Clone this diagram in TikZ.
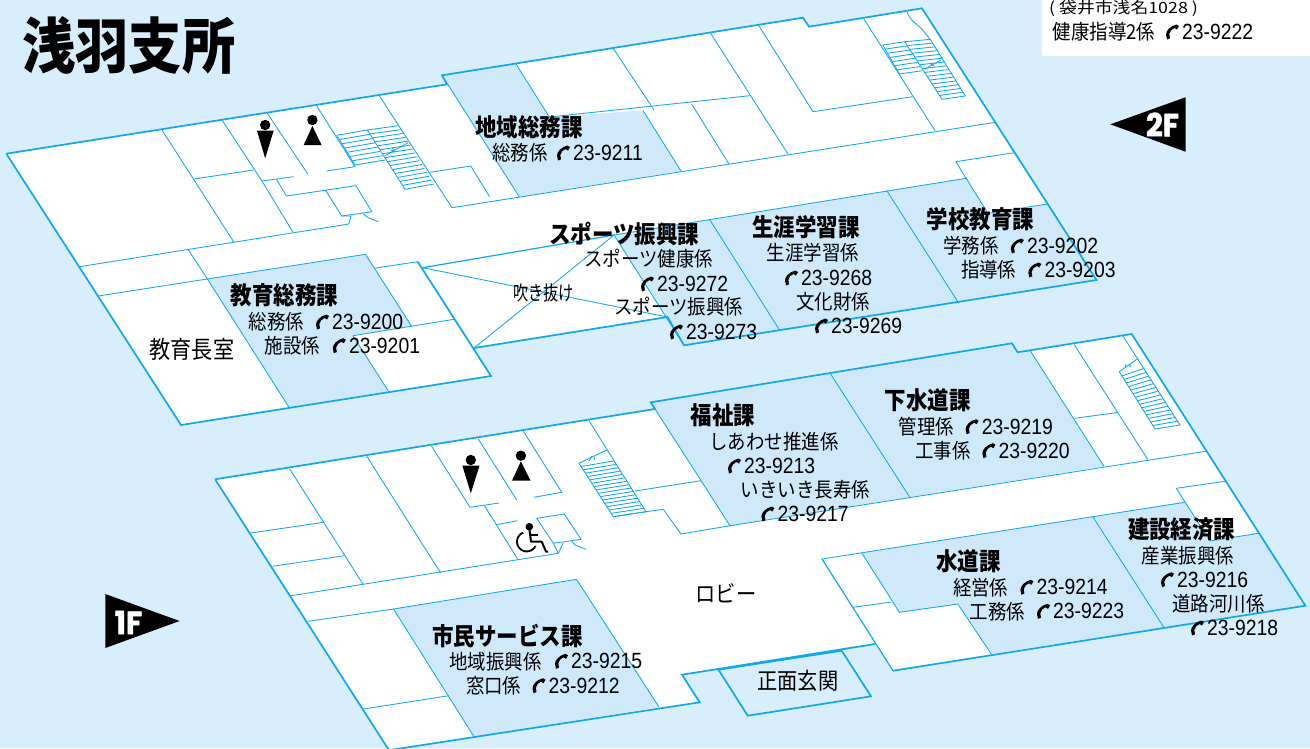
\documentclass[tikz,border=0pt]{standalone}
\usepackage{fontspec}
\usetikzlibrary{calc}
\newfontfamily\jpf[FakeStretch=0.9]{Noto Sans CJK JP}
\newfontfamily\jph[FakeStretch=0.88]{Noto Sans CJK JP}
\newfontfamily\jpn[FakeStretch=0.76]{Noto Sans CJK JP}
\newfontfamily\addrf[FakeStretch=1.15]{Noto Sans CJK JP}
\newfontfamily\numf[FakeStretch=0.88]{Liberation Sans}
\newfontfamily\flr[FakeStretch=0.92,FakeBold=1.5]{Poppins}
\definecolor{bgblue}{HTML}{D9EEFD}
\definecolor{shade}{HTML}{D0E9FA}
\definecolor{wall}{HTML}{12A7EA}
\tikzset{
  thinw/.style={draw=wall,line width=0.85pt,line join=miter},
  thickw/.style={draw=wall,line width=1.7pt,line join=miter},
  midw/.style={draw=wall,line width=1.2pt,line join=miter},
  roomfill/.style={fill=white},
  deptfill/.style={fill=shade},
  labeltxt/.style={inner sep=0pt,anchor=west,font=\jpf\fontsize{20.5}{24}\selectfont},
  headtxt/.style={inner sep=0pt,anchor=west,font=\jph\bfseries\fontsize{24.4}{28}\selectfont},
  numtxt/.style={inner sep=0pt,anchor=west,font=\numf\fontsize{22}{26}\selectfont},
  phone/.pic={
    \fill (4.5,-7.5) .. controls (-2,-6) and (-6,-1) .. (-6,2.5) -- (-5,7.5) -- (-2,6.3) -- (-2.7,2)
      .. controls (-2.3,-1) and (0,-3) .. (2.5,-4) -- (5,-2.5) -- (7,-6) -- cycle;
  }
}
\newcommand\lab[4]{\node[labeltxt] (#1) at (#2,#3) {#4};}
\newcommand\hd[4]{\node[headtxt] (#1) at (#2,#3) {#4};}
\newcommand\tel[4]{\pic at ({#2-10},#3) {phone}; \node[numtxt] (#1) at (#2,#3) {#4};}
\newcommand\treads[5]{\foreach \i in {0,...,#5} {\draw[thinw] ($(#1)!\i/#5!(#3)$) -- ($(#2)!\i/#5!(#4)$);}}
\begin{document}
\begin{tikzpicture}[x=1pt,y=-1pt]
\clip (0,0) rectangle (1310,748);
\fill[bgblue] (0,0) rectangle (1310,748);
\fill[white] (1042,-1) rectangle (1311,56);

% ---------- 2F ----------
\fill[roomfill] (6.3,153.7) -- (447,84.3) -- (442,75.3) -- (803,17.7) -- (809,26.7) -- (922,8.3)
  -- (1096.5,280) -- (684,345.3) -- (667.5,317) -- (474,348) -- (491,376) -- (181,425) -- cycle;
\fill[deptfill] (442,75.3) -- (516,64) -- (549.3,117) -- (643,110.5) -- (681,171) -- (519.2,196.7) -- cycle;
\fill[deptfill] (207.6,279.3) -- (365.5,254.3) -- (411.4,326) -- (353,335.7) -- (388.5,391.3) -- (289,407.3) -- cycle;
\fill[deptfill] (614,235) -- (966.2,178.3) -- (988,213.4) -- (1047,204) -- (1096.5,280) -- (684,345.3) -- cycle;
% corridor and rooms
\draw[thinw] (79.4,266.7) -- (348.8,224) -- (351,216) -- (341.7,216);
\draw[thinw] (98.2,296) -- (365.5,254.3) -- (411.4,326);
\draw[thinw] (188,249.3) -- (207.6,279.3) -- (289,407.3);
\draw[thinw] (373.8,268.3) -- (417.7,261.7);
\draw[thinw] (353,335.7) -- (454,319.3);
\draw[thinw] (353,335.7) -- (388.5,391.3);
\draw[thinw] (162,130) -- (234,242.3);
\draw[thinw] (222,120) -- (262,181) -- (293,232.3);
\draw[thinw] (194,179) -- (253.6,170);
\draw[thinw] (267.3,113.3) -- (307.8,174);
\draw[thinw] (316.6,105.7) -- (355,166.7) -- (326.6,171);
\draw[thinw] (262,181) -- (293.6,176.7);
\draw[thinw] (276.5,179.3) -- (286.5,196) -- (355.9,185.7) -- (371.8,211.7) -- (341.7,216) -- (325.8,190.7);
\draw[thinw] (363.4,214) -- (367.6,217.3) -- (378,221.7);
\draw[thinw] (379.3,95.7) -- (452,207.7) -- (995.4,122.3);
\draw[thinw] (430,172.3) -- (470.8,166) -- (489.5,196.7);
\draw[thinw] (516,64) -- (549.3,117) -- (750,95.7);
\draw[thinw] (613.2,48.3) -- (654,110);
\draw[thinw] (643,110.5) -- (681,171);
\draw[thinw] (710.6,33.3) -- (788,154);
\draw[thinw] (691.8,104.3) -- (729,164);
\draw[thinw] (758.6,25.3) -- (813,111.7) -- (912.7,96.7);
\draw[thinw] (863.9,19) -- (935,130.7);
\draw[thinw] (907,11.7) .. controls (911,22) and (917,24) .. (921,28) -- (930.7,40);
\draw[thinw] (930.7,40) -- (965.4,96);
\draw[thinw] (442,75.3) -- (519.2,196.7);
\draw[thinw] (955.8,161.7) -- (1014,152.7);
\draw[thinw] (955.8,161.7) -- (988,213.4) -- (1047,204);
\draw[thinw] (614,235) -- (966.2,178.3);
\draw[thinw] (709.3,219) -- (779.5,330);
\draw[thinw] (886.8,190.7) -- (957.8,301.7);
% atrium
\draw[thinw] (422.7,267.7) -- (667.5,317);
\draw[thinw] (474,348) -- (614,235);
\draw[thinw] (614,235) -- (684,345.3);
% 2F stairs
\treads{336.7,135.3}{367.3,130}{355,165}{385,160}{7}
\treads{367.3,130}{398.3,125.7}{405,189.3}{434,184}{15}
\draw[thinw] (336.7,135.3) -- (355,165);
\draw[thinw] (367.3,130) -- (405,189.3);
\draw[thinw] (385,155.7) -- (408,142.7);
\draw[thinw] (391,150) -- (395,152) (392,147.5) -- (394,150.5);
\treads{882.7,45}{904.8,41.7}{899.4,74}{922.3,70.7}{7}
\treads{904.8,41.7}{930.7,39.3}{942,99.3}{965.4,96}{15}
\draw[thinw] (882.7,45) -- (899.4,74);
\draw[thinw] (904.8,41.7) -- (942,99.3);
\draw[thinw] (924.4,69.3) -- (941,60);
\draw[thinw] (930,63.5) -- (934,66);
% 2F outline
\draw[thickw] (6.3,153.7) -- (447,84.3) -- (442,75.3) -- (803,17.7) -- (809,26.7) -- (922,8.3)
  -- (1096.5,280) -- (684,345.3) -- (667.5,317) -- (474,348);
\draw[thickw] (6.3,153.7) -- (181,425) -- (491,376) -- (417.7,261.7);
\draw[midw] (422.7,267.7) -- (614,235);

% ---------- 1F ----------
\fill[roomfill] (215.1,479.3) -- (655,409) -- (650.8,402.3) -- (1012,343.3) -- (1017.6,352.3) -- (1131.7,334)
  -- (1305.4,605.7) -- (893,670.7) -- (875,644) -- (682,674.7) -- (699.7,702.3) -- (389,750.2) -- cycle;
\fill[deptfill] (655,409) -- (650.8,402.3) -- (1012,343.3) -- (1017.6,352.3) -- (1030,350.3) -- (1104,466.3) -- (730,525.7) -- cycle;
\fill[deptfill] (861.8,553) -- (1184.7,502.3) -- (1210,541) -- (1258.6,533.3) -- (1305.4,605.7) -- (991.3,654) -- (957.8,604) -- (899.4,612.3) -- cycle;
\fill[deptfill] (393.5,609) -- (576.5,579.3) -- (659,707) -- (474,736.7) -- cycle;
\fill[bgblue] (718.5,669.7) -- (841.7,650.7) -- (871,696.3) -- (747.7,715.7) -- cycle;
% rooms
\draw[thinw] (289.5,468.7) -- (363.4,584.7);
\draw[thinw] (250.6,533) -- (323.7,522.3);
\draw[thinw] (272.3,566.3) -- (344.6,555.7);
\draw[thinw] (366.8,456.3) -- (440.7,573);
\draw[thinw] (431.5,446) -- (470,507.3) -- (499,503);
\draw[thinw] (484.5,505.7) -- (518.3,560);
\draw[thinw] (496.2,524.7) -- (517.3,520.7);
\draw[thinw] (291.2,595.7) -- (558.3,553.3) -- (563.3,542.7);
\draw[thinw] (553.3,543.3) -- (558.3,553.3);
\draw[thinw] (536.7,518.3) -- (564.3,514) -- (581,539.3) -- (553.3,543.3) -- cycle;
\draw[thinw] (571.7,541) -- (575,545) -- (586,549.3);
\draw[thinw] (478.3,439) -- (516.7,500);
\draw[thinw] (523.4,431.3) -- (561.8,492.3) -- (533.8,497.3);
\draw[thinw] (589,420.7) -- (646,511.7) -- (663.3,509.3) -- (681,534) -- (730,525.7);
\draw[thinw] (613.3,516.7) -- (646,511.7);
\draw[thinw] (635,491) -- (701,480.7);
\draw[thinw] (655,409) -- (730,525.7) -- (1205.6,451.3);
\draw[thinw] (830,373) -- (909.8,497.3);
\draw[thinw] (1030,350.3) -- (1104,466.3);
\draw[thinw] (1074,344.3) -- (1147.9,459.7);
\draw[thinw] (1074.8,418.3) -- (1117.4,412.5);
\draw[thinw] (1122.3,335) -- (1180,425);
\draw[thinw] (822,559) -- (1184.7,502.3);
\draw[thinw] (1176.3,488.3) -- (1225.2,481.3);
\draw[thinw] (1176.3,488.3) -- (1210,541) -- (1258.6,533.3);
\draw[thinw] (861.8,553) -- (899.4,612.3) -- (957.8,604) -- (991.3,654);
\draw[thinw] (853.4,607.3) -- (891,602);
\draw[thinw] (1092.8,516.7) -- (1163.8,627.3);
\draw[thinw] (307.9,621.3) -- (393.5,609) -- (474,736.7);
\draw[thinw] (393.5,609) -- (576.5,579.3) -- (659,707);
\draw[thinw] (363.4,709) -- (449,695.7);
% 1F stairs
\treads{581,466.5}{613.6,461}{613.3,516.7}{646,511.7}{15}
\draw[thinw] (579,463.3) -- (613.3,516.7);
\draw[thinw] (579,463.3) -- (606.7,450);
\draw[thinw] (589,461) -- (592,456) (594,457) -- (595,460);
\treads{1121.7,376}{1144,368.5}{1155,429}{1180,425}{15}
\draw[thinw] (1119.3,371.7) -- (1155,429);
\draw[thinw] (1119.3,371.7) -- (1138.3,358.3);
\draw[thinw] (1125,368) -- (1126,364) (1129,364) -- (1131,367);
% 1F outline
\draw[thickw] (215.1,479.3) -- (655,409) -- (650.8,402.3) -- (1012,343.3) -- (1017.6,352.3) -- (1131.7,334)
  -- (1305.4,605.7) -- (893,670.7);
\draw[midw] (893,670.7) -- (822,559);
\draw[thickw] (215.1,479.3) -- (389,750.2) -- (699.7,702.3) -- (682,674.7) -- (875,644);
\draw[thickw] (718.5,669.7) -- (841.7,650.7) -- (871,696.3) -- (747.7,715.7) -- cycle;

% ---------- icons ----------
\fill (265.2,125) circle (5.2);
\fill (257,130.7) -- (273.6,130.7) -- (265.2,158.3) -- cycle;
\fill (312.4,120) circle (5.2);
\fill (312.4,126) -- (321.6,145) -- (303.7,145) -- cycle;
\fill (470.8,460) circle (5.2);
\fill (462.4,465.7) -- (479.5,465.7) -- (470.8,493.3) -- cycle;
\fill (520.9,455.7) circle (5.2);
\fill (520.9,461.3) -- (530.5,480.7) -- (512,480.7) -- cycle;
% wheelchair
\fill (529.3,526.7) circle (3.8);
\draw[line width=2pt,line join=round] (529.5,530) -- (531,541.7) -- (541.7,541.7) -- (546,551.5) -- (548,551.5);
\draw[line width=1.8pt] (531,535.2) -- (538.3,535.2);
\draw[line width=1.8pt] plot[domain=25:250,samples=30] ({526.7+9.7*cos(\x)},{541.7+9.7*sin(\x)});
% floor signs
\fill (1110.3,124.3) -- (1185.5,97.3) -- (1185.5,151.7) -- cycle;
\node[inner sep=0pt,text=white,font=\flr\bfseries\fontsize{32}{34}\selectfont] (f2) at (1162.5,124.5) {2F};
\fill (105.3,594) -- (179.6,621) -- (105.3,648) -- cycle;
\node[inner sep=0pt,text=white,font=\flr\bfseries\fontsize{32}{34}\selectfont] (f1) at (128.5,622.5) {1F};

% ---------- title and box ----------
\node[inner sep=0pt,font=\jph\bfseries\fontsize{60.5}{66}\selectfont] (title) at (129,45) {浅羽支所};
\node[inner sep=0pt,anchor=west,font=\addrf\fontsize{15.5}{20}\selectfont] (addr) at (1049,8) {( 袋井市浅名1028 )};
\lab{hk}{1052.7}{32}{健康指導2係}
\tel{hkn}{1182}{32}{23-9222}

% ---------- 2F labels ----------
\hd{h1}{475}{127}{地域総務課}
\lab{a1}{492}{153}{総務係}
\tel{n1}{573}{153}{23-9211}
\hd{h2}{549}{233.5}{スポーツ振興課}
\lab{a2}{584}{259}{スポーツ健康係}
\tel{n2}{657}{284}{23-9272}
\lab{a3}{614}{307}{スポーツ振興係}
\tel{n3}{686}{332}{23-9273}
\hd{h3}{752}{227}{生涯学習課}
\lab{a4}{766.5}{253}{生涯学習係}
\tel{n4}{801}{278}{23-9268}
\lab{a5}{796}{302}{文化財係}
\tel{n5}{831}{326}{23-9269}
\hd{h4}{926.5}{219}{学校教育課}
\lab{a6}{943}{246}{学務係}
\tel{n6}{1026.8}{246}{23-9202}
\lab{a7}{960.8}{270}{指導係}
\tel{n7}{1044.3}{270}{23-9203}
\hd{h5}{230.6}{295}{教育総務課}
\lab{a8}{248.5}{322}{総務係}
\tel{n8}{332}{322}{23-9200}
\lab{a9}{264.4}{345.7}{施設係}
\tel{n9}{348.8}{345.7}{23-9201}
\node[labeltxt,font=\jph\fontsize{24}{28}\selectfont] (k1) at (149.5,349) {教育長室};
\node[labeltxt,font=\jpn\fontsize{20}{24}\selectfont] (k2) at (513,293) {吹き抜け};

% ---------- 1F labels ----------
\hd{h6}{690.5}{415.7}{福祉課}
\lab{b1}{709.3}{441.7}{しあわせ推進係}
\tel{m1}{744}{466}{23-9213}
\lab{b2}{740.6}{489.7}{いきいき長寿係}
\tel{m2}{777.4}{514}{23-9217}
\hd{h7}{884.7}{400.7}{下水道課}
\lab{b3}{898.5}{426.7}{管理係}
\tel{m3}{981.6}{426.7}{23-9219}
\lab{b4}{915.2}{450.7}{工事係}
\tel{m4}{998.4}{450.7}{23-9220}
\hd{h8}{1127.8}{529}{建設経済課}
\lab{b5}{1141.6}{555.7}{産業振興係}
\tel{m5}{1177}{579.7}{23-9216}
\lab{b6}{1172}{603.3}{道路河川係}
\tel{m6}{1207}{628}{23-9218}
\hd{h9}{936}{561.7}{水道課}
\lab{b7}{952.8}{587.3}{経営係}
\tel{m7}{1036.4}{587.3}{23-9214}
\lab{b8}{969.5}{611.3}{工務係}
\tel{m8}{1053}{611.3}{23-9223}
\node[labeltxt,font=\jph\fontsize{23}{28}\selectfont] (k3) at (695.5,593) {ロビー};
\node[labeltxt,font=\jph\fontsize{23}{28}\selectfont] (k4) at (757.3,681.3) {正面玄関};
\hd{h10}{432.3}{635.7}{市民サービス課}
\lab{b9}{449}{661.3}{地域振興係}
\tel{m9}{571}{661.3}{23-9215}
\lab{b10}{465.8}{685.7}{窓口係}
\tel{m10}{548.5}{685.7}{23-9212}
\end{tikzpicture}
\end{document}
